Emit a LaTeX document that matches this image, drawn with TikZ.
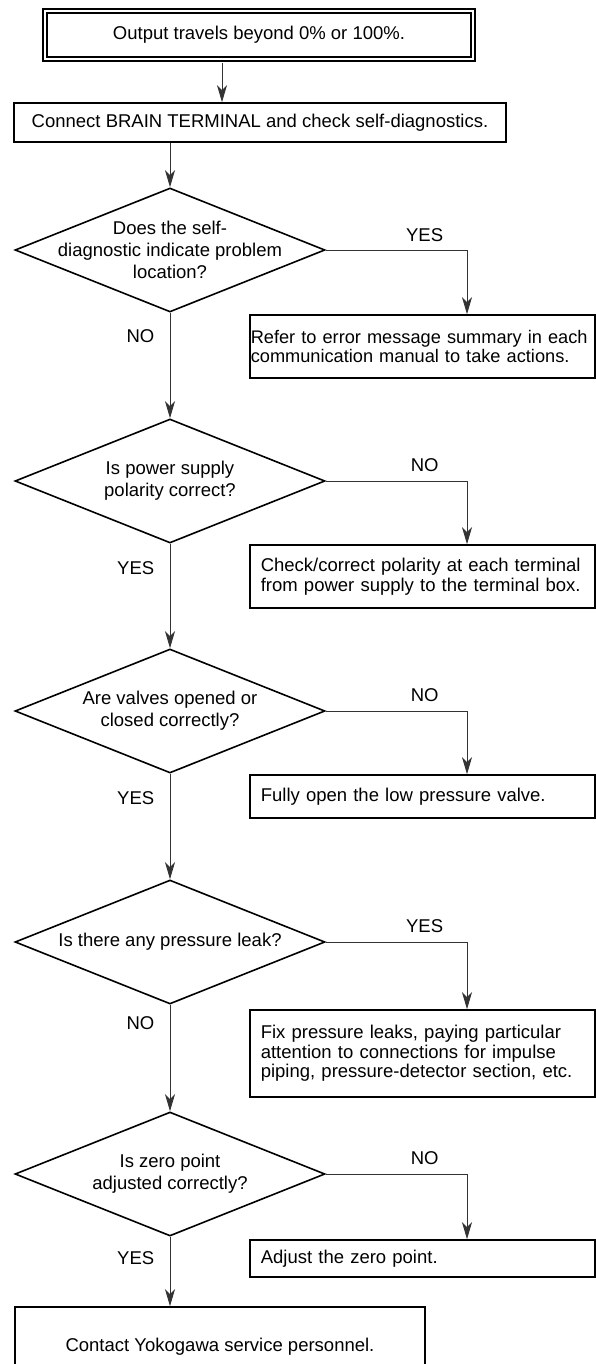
\documentclass[tikz,border=0pt]{standalone}
\usepackage{fontspec}
\setmainfont{Liberation Sans}
\usepackage{tikz}
\usetikzlibrary{arrows.meta,shapes.geometric}
\tikzset{
  startbox/.style={draw, double, line width=2pt, double distance=1.8pt, minimum width=428pt, minimum height=48pt, inner sep=0pt},
  stepbox/.style={draw, line width=1.6pt, align=center, inner sep=0pt},
  actbox/.style={draw, line width=1.6pt, align=left, anchor=west, minimum width=345pt, text width=323pt, inner xsep=11pt, inner ysep=0pt, font=\fontsize{18.5pt}{19.5pt}\selectfont},
  widebox/.style={actbox, inner xsep=1pt, text width=343pt, font=\fontsize{18.2pt}{19.5pt}\selectfont},
  decision/.style={draw, diamond, line width=1.6pt, aspect=2.5, minimum width=310pt, minimum height=124pt, inner sep=-9.4pt, align=center},
  flow/.style={-{Stealth[length=17pt,width=10pt,inset=5pt]}, line width=0.9pt, draw=black!80},
  answer/.style={inner sep=3.3pt}
}

\begin{document}
\begin{tikzpicture}[x=1pt,y=-1pt,font=\fontsize{18.5pt}{22pt}\selectfont]
  \useasboundingbox (0,0) rectangle (595,1364);

  \node[startbox] (start) at (259,35) {Output travels beyond 0\% or 100\%.};
  \node[stepbox, minimum width=492pt, minimum height=39pt] (connect) at (260,122.5) {Connect BRAIN TERMINAL and check self-diagnostics.};

  \node[decision] (q1) at (170,250) {Does the self-\\diagnostic indicate problem\\location?};
  \node[widebox, minimum height=63pt] (a1) at (249,346.5) {Refer to error message summary in each\\communication manual to take actions.};

  \node[decision] (q2) at (170,481) {Is power supply\\polarity correct?};
  \node[actbox, minimum height=63pt] (a2) at (249,576.5) {Check/correct polarity at each terminal\\from power supply to the terminal box.};

  \node[decision] (q3) at (170,711) {Are valves opened or\\closed correctly?};
  \node[actbox, minimum height=43pt] (a3) at (249,796.5) {Fully open the low pressure valve.};

  \node[decision] (q4) at (170,942) {Is there any pressure leak?};
  \node[actbox, minimum height=87pt] (a4) at (249,1053.5) {Fix pressure leaks, paying particular\\attention to connections for impulse\\piping, pressure-detector section, etc.};

  \node[decision] (q5) at (170,1174) {Is zero point\\adjusted correctly?};
  \node[actbox, minimum height=37pt] (a5) at (249,1258.5) {Adjust the zero point.};

  \node[stepbox, minimum width=410pt, minimum height=80pt] (finish) at (220,1347) {Contact Yokogawa service personnel.};

  % branch columns
  \coordinate (xa) at (222,0);
  \coordinate (xb) at (467,0);

  \draw[flow, shorten <=2.9pt] (start.south -| xa) -- (connect.north -| xa);
  \draw[flow] (connect.south -| q1) -- (q1.north);

  \draw[flow] (q1.east) -| (a1.north -| xb) node[answer, pos=0.35, above=5pt] {YES};
  \draw[flow] (q1.south) -- node[answer, pos=0.22, left=12pt] {NO} (q2.north);

  \draw[flow] (q2.east) -| (a2.north -| xb) node[answer, pos=0.35, above=6pt] {NO};
  \draw[flow] (q2.south) -- node[answer, pos=0.23, left=12pt] {YES} (q3.north);

  \draw[flow] (q3.east) -| (a3.north -| xb) node[answer, pos=0.35, above=6pt] {NO};
  \draw[flow] (q3.south) -- node[answer, pos=0.23, left=12pt] {YES} (q4.north);

  \draw[flow] (q4.east) -| (a4.north -| xb) node[answer, pos=0.35, above=6pt] {YES};
  \draw[flow] (q4.south) -- node[answer, pos=0.17, left=12pt] {NO} (q5.north);

  \draw[flow] (q5.east) -| (a5.north -| xb) node[answer, pos=0.35, above=6pt] {NO};
  \draw[flow] (q5.south) -- node[answer, pos=0.31, left=12pt] {YES} (q5.south |- finish.north);
\end{tikzpicture}
\end{document}
